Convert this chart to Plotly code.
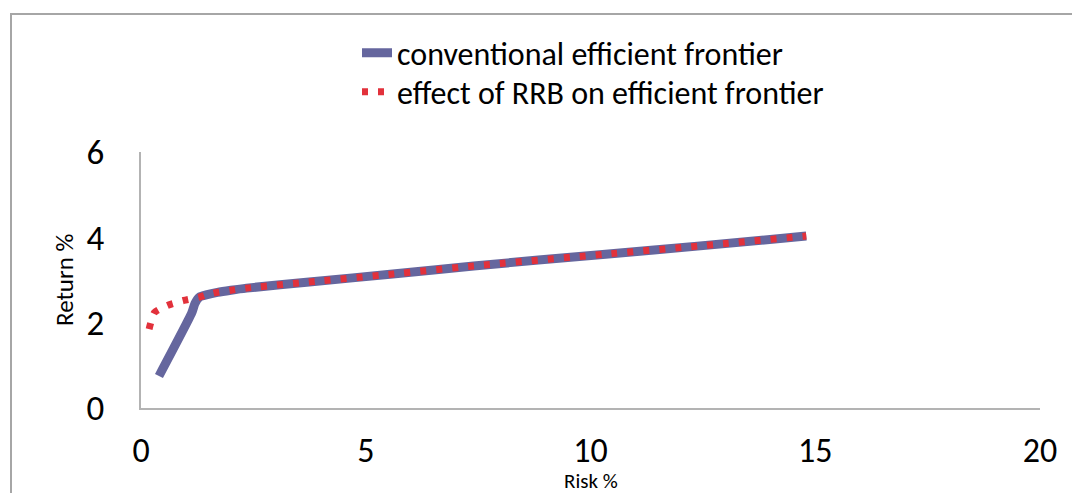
import plotly.graph_objects as go

# Data (Risk %, Return %)
conv_risk = [0.4, 1.13, 1.2, 1.3, 1.45, 1.7, 2.0, 2.35, 3.8, 5.6, 7.4, 10.27, 12.44, 14.8]
conv_return = [0.75, 2.23, 2.45, 2.60, 2.65, 2.71, 2.76, 2.81, 2.96, 3.14, 3.33, 3.60, 3.80, 4.03]

rrb_risk = [0.18, 0.3, 0.6, 0.95, 1.3, 1.45, 1.7, 2.0, 2.35, 3.8, 5.6, 7.4, 10.27, 12.44, 14.8]
rrb_return = [1.85, 2.24, 2.41, 2.52, 2.60, 2.65, 2.71, 2.76, 2.81, 2.96, 3.14, 3.33, 3.60, 3.80, 4.03]

x_ticks = [0, 5, 10, 15, 20]
y_ticks = [0, 2, 4, 6]

FONT = "Carlito, Calibri, Roboto, sans-serif"

fig = go.Figure()
fig.add_trace(go.Scatter(
    x=conv_risk, y=conv_return, mode="lines",
    name="conventional efficient frontier", legend="legend",
    line=dict(color="#65669E", width=9, shape="spline", smoothing=0.5),
))
fig.add_trace(go.Scatter(
    x=rrb_risk, y=rrb_return, mode="lines",
    name="effect of RRB on efficient frontier", legend="legend2",
    line=dict(color="#E2313B", width=7, dash="6px,10px", shape="spline", smoothing=0.5),
))

legend_common = dict(
    xref="container", yref="container", xanchor="left", yanchor="middle",
    font=dict(size=32, family=FONT, color="black"),
    bgcolor="rgba(0,0,0,0)", borderwidth=0,
)

fig.update_layout(
    width=1072, height=493,
    margin=dict(l=141, r=32, t=152, b=85, autoexpand=False),
    paper_bgcolor="white", plot_bgcolor="white",
    font=dict(family=FONT, color="black"),
    showlegend=True,
    legend=dict(x=357 / 1072, y=1 - 53 / 493, **legend_common),
    legend2=dict(x=357 / 1072, y=1 - 92 / 493, **legend_common),
    xaxis=dict(
        range=[0, 20], tickvals=x_ticks, showgrid=False, zeroline=False,
        showline=True, linecolor="#b3b3b3", linewidth=1.5, ticks="",
        tickfont=dict(size=34), ticklabelstandoff=11,
    ),
    yaxis=dict(
        range=[0, 6], tickvals=y_ticks, showgrid=False, zeroline=False,
        showline=True, linecolor="#b3b3b3", linewidth=1.5, ticks="",
        tickfont=dict(size=35), ticklabelstandoff=28,
    ),
    annotations=[
        dict(text="Risk %", xref="paper", yref="paper",
             x=0.5, y=(408 - 481) / 256, xanchor="center", yanchor="middle",
             showarrow=False, font=dict(size=21)),
        dict(text="Return %", xref="paper", yref="paper",
             x=(64 - 141) / 899, y=(408 - 280) / 256, xanchor="center", yanchor="middle",
             textangle=-90, showarrow=False, font=dict(size=25)),
    ],
    shapes=[dict(
        type="rect", xref="paper", yref="paper",
        x0=(11 - 141) / 899, x1=(1090 - 141) / 899,
        y0=(408 - 510) / 256, y1=(408 - 14) / 256,
        line=dict(color="#a6a6a6", width=2), fillcolor="rgba(0,0,0,0)",
        layer="below",
    )],
)

fig.write_html("out.html")
